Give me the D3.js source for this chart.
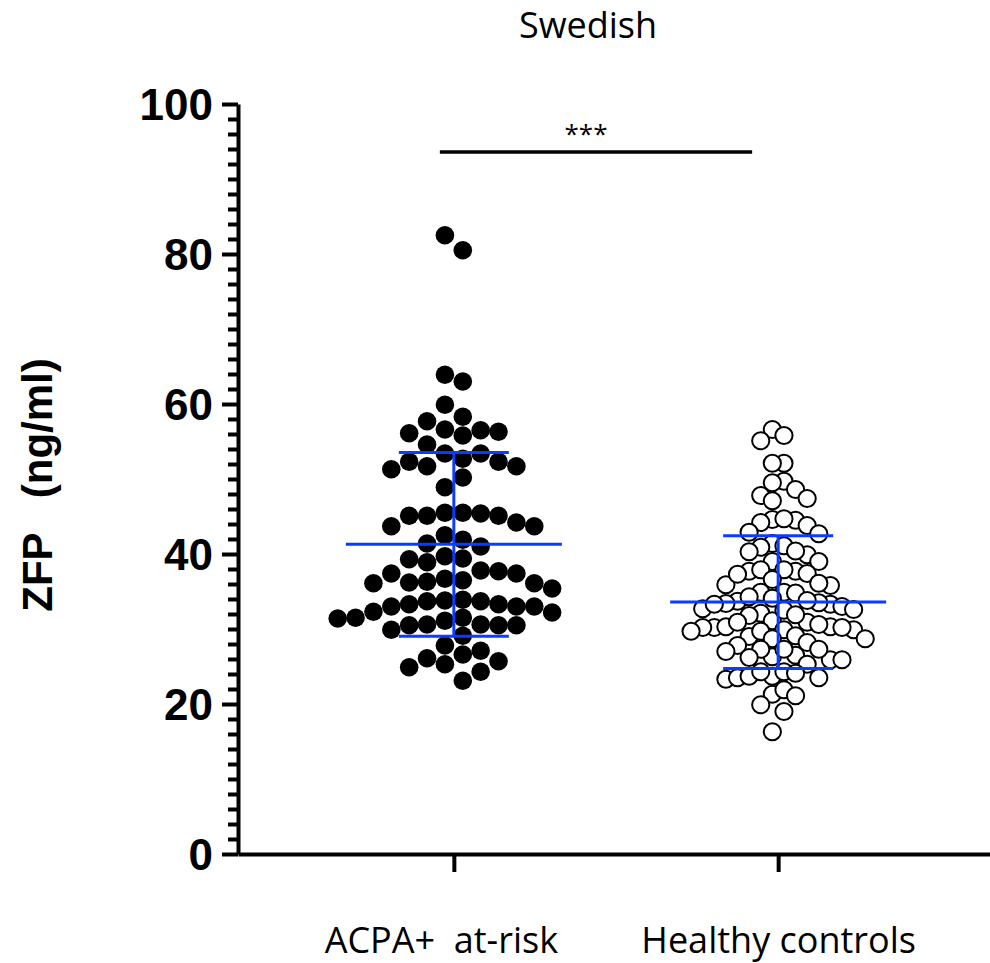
<!DOCTYPE html>
<html>
<head>
<meta charset="utf-8">
<script src="https://cdn.jsdelivr.net/npm/d3@7"></script>
<style>
  body { margin: 0; background: #fff; }
  svg { display: block; }
  text { white-space: pre; }
</style>
</head>
<body>
<svg id="chart" width="990" height="963"></svg>
<script>
const groups = ['ACPA+  at-risk', 'Healthy controls'];

// ZFP (ng/ml), one value per subject
const acpaValues = [
    82.5, 80.5, 63.9, 63.0, 59.9, 58.3, 56.5, 56.6, 55.8, 56.3, 57.7, 56.1, 54.6, 53.4,
    53.4, 52.7, 51.3, 51.7, 52.3, 52.3, 51.7, 50.2, 48.9, 45.1, 45.1, 44.2, 43.7, 43.7,
    45.5, 45.1, 45.4, 45.5, 41.9, 41.4, 41.0, 42.5, 39.3, 39.4, 38.9, 39.7, 37.7, 36.7,
    36.1, 37.4, 36.2, 36.1, 36.5, 36.3, 37.8, 37.4, 35.4, 33.8, 33.7, 33.3, 33.0, 32.2,
    33.0, 32.3, 33.7, 33.9, 33.3, 33.0, 30.5, 31.4, 30.6, 30.6, 29.9, 31.1, 31.5, 31.5,
    30.5, 30.5, 29.1, 27.8, 27.1, 26.6, 25.7, 25.3, 24.3, 24.9, 26.1, 23.1
];
const controlValues = [
    56.6, 55.8, 55.1, 52.1, 52.1, 49.7, 49.5, 48.6, 47.8, 47.1, 47.4, 44.6, 44.5, 44.2,
    43.8, 44.7, 42.9, 42.7, 41.4, 41.1, 40.9, 39.9, 39.0, 39.0, 40.3, 40.4, 37.7, 37.9,
    37.7, 37.9, 37.4, 36.6, 35.9, 35.8, 36.1, 34.9, 34.9, 34.8, 34.1, 33.3, 33.7, 33.5,
    33.8, 33.4, 33.0, 32.6, 32.1, 31.1, 32.5, 31.8, 32.7, 29.9, 29.1, 29.0, 30.2, 30.9,
    30.3, 30.3, 29.7, 29.9, 30.9, 30.2, 28.7, 30.2, 28.7, 29.7, 28.2, 27.8, 26.5, 26.3,
    25.3, 27.3, 27.3, 26.2, 27.0, 23.7, 23.3, 23.5, 24.3, 23.7, 23.5, 24.1, 21.3, 19.9,
    21.9, 21.1, 19.0, 16.3, 25.9, 27.3, 33.3, 30.6, 37.3, 24.3, 34.3, 25.9, 31.9
];
// mean and SD bars as drawn in the figure
const groupMeans = [41.3, 33.6];
const groupSDs = [12.25, 8.85];

const yTicks = [0, 20, 40, 60, 80, 100];
const yMinorTicks = d3.range(0, 101, 2).filter(d => d % 20 !== 0);
const sigLevel = 93.6;

const blue = '#0a3bff';
const svg = d3.select('#chart');

const x = d3.scalePoint()
    .domain(groups)
    .range([238, 994])
    .padding(0.6656);

const y = d3.scaleLinear()
    .domain([0, 100])
    .range([854, 104]);

// GraphPad-like column scatter: points sit in columns half a step off centre,
// a column only takes a point if it keeps a full diameter clear vertically
function swarm(values, step, gap) {
    const columns = new Map();
    const offsets = new Array(values.length);
    let left = 0, right = 0;
    const order = d3.range(values.length).sort((a, b) => values[b] - values[a]);
    for (const i of order) {
        const py = y(values[i]);
        for (let k = 0; ; k++) {
            const sides = left <= right ? [-1, 1] : [1, -1];
            let placed = false;
            for (const s of sides) {
                const c = s * (k + 0.5);
                const col = columns.get(c) || [];
                if (col.every(q => Math.abs(q - py) >= gap)) {
                    col.push(py);
                    columns.set(c, col);
                    offsets[i] = c * step;
                    if (s < 0) left++; else right++;
                    placed = true;
                    break;
                }
            }
            if (placed) break;
        }
    }
    return values.map((v, i) => ({ value: v, dx: offsets[i] }));
}

const acpaPoints = swarm(acpaValues, 17.87, 18);
const controlPoints = swarm(controlValues, 11.61, 17.5);

// Axes
const yAxis = svg.append('g')
    .attr('transform', 'translate(238,0)')
    .attr('stroke-width', 4)
    .call(d3.axisLeft(y).tickValues(yTicks).tickSize(16).tickSizeOuter(0).tickPadding(9));
yAxis.selectAll('text')
    .attr('dy', '0.36em')
    .attr('font-family', '"Liberation Sans", Arial, sans-serif')
    .attr('font-weight', 'bold')
    .attr('font-size', 44)
    .attr('fill', '#000');

svg.append('g')
    .attr('transform', 'translate(238,0)')
    .attr('stroke-width', 4)
    .call(d3.axisLeft(y).tickValues(yMinorTicks).tickSize(10).tickSizeOuter(0).tickFormat(''))
    .call(g => g.select('.domain').remove());

const xAxis = svg.append('g')
    .attr('transform', `translate(0,${y(0)})`)
    .attr('stroke-width', 4)
    .call(d3.axisBottom(x).tickSize(18).tickSizeOuter(0));
xAxis.selectAll('text')
    .attr('x', (d, i) => i === 0 ? -13 : 0)
    .attr('y', 99)
    .attr('dy', 0)
    .attr('font-family', '"Open Sans", sans-serif')
    .attr('font-size', 36)
    .attr('fill', '#000');

// Points
svg.append('g')
    .selectAll('circle')
    .data(acpaPoints)
    .join('circle')
    .attr('cx', d => x(groups[0]) + d.dx)
    .attr('cy', d => y(d.value))
    .attr('r', 9.3)
    .attr('fill', '#000');

svg.append('g')
    .selectAll('circle')
    .data(controlPoints)
    .join('circle')
    .attr('cx', d => x(groups[1]) + d.dx)
    .attr('cy', d => y(d.value))
    .attr('r', 8.6)
    .attr('fill', '#fff')
    .attr('stroke', '#000')
    .attr('stroke-width', 2);

// Mean ± SD
const bars = svg.append('g')
    .attr('stroke', blue)
    .attr('stroke-width', 3);
groups.forEach((g, i) => {
    const cx = x(g);
    const m = groupMeans[i];
    const s = groupSDs[i];
    bars.append('line')
        .attr('x1', cx - 108).attr('x2', cx + 108)
        .attr('y1', y(m)).attr('y2', y(m));
    [m + s, m - s].forEach(v => {
        bars.append('line')
            .attr('x1', cx - 55).attr('x2', cx + 55)
            .attr('y1', y(v)).attr('y2', y(v));
    });
    bars.append('line')
        .attr('x1', cx).attr('x2', cx)
        .attr('y1', y(m + s)).attr('y2', y(m - s));
});

// Significance bar
const sx0 = x(groups[0]) - 14;
const sx1 = x(groups[1]) - 26;
svg.append('line')
    .attr('x1', sx0).attr('x2', sx1)
    .attr('y1', y(sigLevel)).attr('y2', y(sigLevel))
    .attr('stroke', '#000')
    .attr('stroke-width', 3.3);
svg.append('text')
    .attr('x', (sx0 + sx1) / 2 - 10)
    .attr('y', y(sigLevel) - 9)
    .attr('text-anchor', 'middle')
    .attr('font-family', '"Open Sans", sans-serif')
    .attr('font-size', 26)
    .text('***');

// Titles
svg.append('text')
    .attr('x', 588)
    .attr('y', 38)
    .attr('text-anchor', 'middle')
    .attr('font-family', '"Open Sans", sans-serif')
    .attr('font-size', 36)
    .text('Swedish');

svg.append('text')
    .attr('transform', 'translate(52,485) rotate(-90)')
    .attr('text-anchor', 'middle')
    .attr('font-family', '"Liberation Sans", Arial, sans-serif')
    .attr('font-weight', 'bold')
    .attr('font-size', 42)
    .text('ZFP   (ng/ml)');
</script>
</body>
</html>
